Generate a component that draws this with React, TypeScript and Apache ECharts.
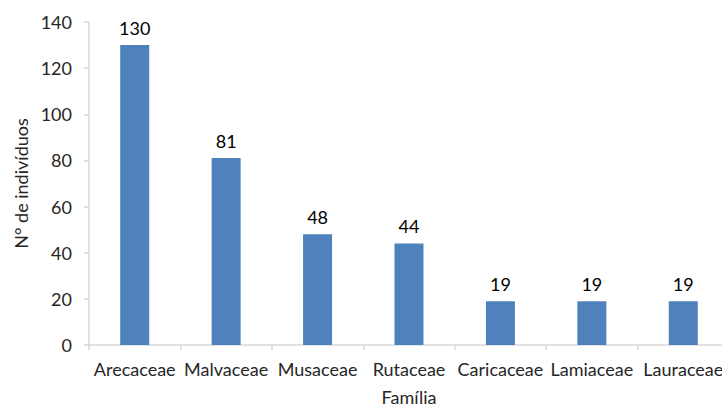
import React, { useEffect, useRef } from "react";
import * as echarts from "echarts";

const categories = ["Arecaceae", "Malvaceae", "Musaceae", "Rutaceae", "Caricaceae", "Lamiaceae", "Lauraceae"];
const values = [130, 81, 48, 44, 19, 19, 19];
const yTicks = { min: 0, max: 140, interval: 20 };

export default function App() {
  const ref = useRef<HTMLDivElement>(null);
  useEffect(() => {
    if (!ref.current) return;
    const chart = echarts.init(ref.current, null, { renderer: "svg" });
    const font = "Lato, 'Open Sans', sans-serif";
    const txt = "#262626";
    chart.setOption({
      animation: false,
      backgroundColor: "#ffffff",
      grid: { left: 89, right: 1, top: 22, bottom: 62, containLabel: false, outerBoundsMode: "none" },
      xAxis: {
        type: "category",
        data: categories,
        name: "Família",
        nameLocation: "middle",
        nameGap: 45,
        nameTextStyle: { fontFamily: font, fontSize: 18, lineHeight: 14, color: txt },
        axisLine: { lineStyle: { color: "#D9D9D9", width: 1.5 } },
        axisTick: { show: true, alignWithLabel: false, length: 5, lineStyle: { color: "#D9D9D9", width: 1.5 } },
        axisLabel: { fontFamily: font, fontSize: 18, color: txt, margin: 15, interval: 0 },
      },
      yAxis: {
        type: "value",
        min: yTicks.min,
        max: yTicks.max,
        interval: yTicks.interval,
        name: "N° de indivíduos",
        nameLocation: "middle",
        nameGap: 58,
        nameRotate: 90,
        nameTextStyle: { fontFamily: font, fontSize: 18, color: txt },
        splitLine: { show: false },
        axisLine: { show: true, lineStyle: { color: "#D9D9D9", width: 1.5 } },
        axisTick: { show: true, length: 5, lineStyle: { color: "#D9D9D9", width: 1.5 } },
        axisLabel: { fontFamily: font, fontSize: 18, color: txt, margin: 17 },
      },
      series: [
        {
          type: "bar",
          data: values,
          barWidth: 29,
          itemStyle: { color: "#4F81BD" },
          label: {
            show: true,
            position: "top",
            distance: 8,
            fontFamily: font,
            fontSize: 18,
            color: "#000000",
          },
        },
      ],
    });
    return () => chart.dispose();
  }, []);
  return (
    <div style={{ position: "fixed", left: 0, top: 0, width: 722, height: 407, overflow: "hidden" }}>
      <div ref={ref} style={{ width: 730, height: 407 }} />
    </div>
  );
}
